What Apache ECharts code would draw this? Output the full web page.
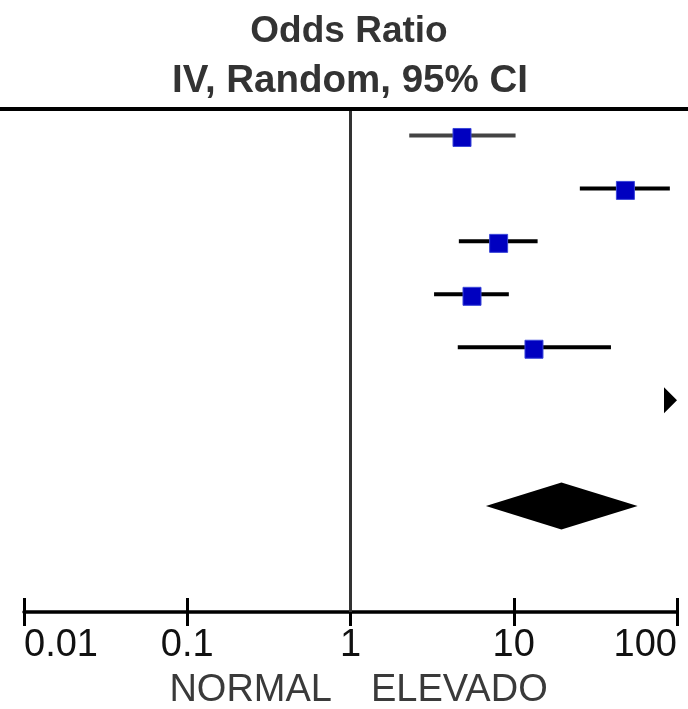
<!DOCTYPE html>
<html><head><meta charset="utf-8">
<script src="https://cdn.jsdelivr.net/npm/echarts@6/dist/echarts.min.js"></script>
<style>html,body{margin:0;padding:0;background:#fff}#c{width:688px;height:709px}</style>
</head><body><div id="c"></div>
<script>
// ---- data ----
const studyRows = [1, 2, 3, 4, 5];
const oddsRatio = [4.82, 48.3, 8.08, 5.55, 13.3];
const ciLow = [2.29, 25.4, 4.61, 3.25, 4.54];
const ciHigh = [10.26, 90.4, 14.0, 9.33, 39.4];
const offScaleRows = [6];          // study whose interval lies beyond the axis (arrow at max)
const offScaleValues = [100];
const pooledRows = [8];
const pooledOR = [19.6];
const pooledLow = [6.75];
const pooledHigh = [57.4];
const tickValues = [0.01, 0.1, 1, 10, 100];
const tickLabels = ['0.01', '0.1', '1', '10', '100'];
const titleLines = ['Odds Ratio', 'IV, Random, 95% CI'];
const favourLabels = ['NORMAL', 'ELEVADO'];

// ---- chart ----
const FONT = 'Liberation Sans, Arial, sans-serif';
const chart = echarts.init(document.getElementById('c'), null, {renderer: 'canvas'});

function fmt(v) {
  let best = 0;
  tickValues.forEach((t, i) => { if (Math.abs(Math.log10(t) - Math.log10(v)) < Math.abs(Math.log10(tickValues[best]) - Math.log10(v))) best = i; });
  return tickLabels[best];
}

const studyData = studyRows.map((r, i) => [oddsRatio[i], r, ciLow[i], ciHigh[i]]);
const arrowData = offScaleRows.map((r, i) => [offScaleValues[i], r]);
const pooledData = pooledRows.map((r, i) => [pooledOR[i], r, pooledLow[i], pooledHigh[i]]);

const option = {
  animation: false,
  backgroundColor: '#fff',
  grid: {left: 24, right: 11, top: 109, bottom: 97, containLabel: false},
  xAxis: [{
    type: 'log', logBase: 10, min: 0.01, max: 100, position: 'bottom',
    axisLine: {show: true, lineStyle: {color: '#000', width: 3.5}},
    axisTick: {show: true, length: 14, lineStyle: {color: '#000', width: 3}},
    minorTick: {show: false},
    axisLabel: {fontSize: 38, color: '#111', fontFamily: FONT, margin: 15,
      alignMinLabel: 'left', alignMaxLabel: 'right', formatter: fmt},
    splitLine: {show: false}
  }, {
    type: 'log', logBase: 10, min: 0.01, max: 100, position: 'bottom',
    axisLine: {show: false},
    axisTick: {show: true, inside: true, length: 14, lineStyle: {color: '#000', width: 3}},
    axisLabel: {show: false},
    splitLine: {show: false}
  }],
  yAxis: {type: 'value', inverse: true, min: 0.5, max: 10, show: false},
  graphic: [
    {type: 'rect', shape: {x: 0, y: 107, width: 688, height: 4}, style: {fill: '#000'}, z: 10},
    {type: 'text', style: {x: 349, y: 13, text: titleLines[0], font: 'bold 37px ' + FONT, fill: '#333', align: 'center', verticalAlign: 'top'}},
    {type: 'text', style: {x: 350, y: 62, text: titleLines[1], font: 'bold 38.5px ' + FONT, fill: '#333', align: 'center', verticalAlign: 'top'}},
    {type: 'text', style: {x: 332, y: 672, text: favourLabels[0], font: '38px ' + FONT, fill: '#3a3a3a', align: 'right', verticalAlign: 'top'}},
    {type: 'text', style: {x: 371, y: 672, text: favourLabels[1], font: '38px ' + FONT, fill: '#3a3a3a', align: 'left', verticalAlign: 'top'}}
  ],
  series: [{
    type: 'custom',
    data: studyData,
    encode: {x: [0, 2, 3], y: 1},
    clip: false,
    z: 3,
    renderItem: function (params, api) {
      const y = api.value(1);
      const pE = api.coord([api.value(0), y]);
      const pL = api.coord([api.value(2), y]);
      const pH = api.coord([api.value(3), y]);
      const col = params.dataIndex === 0 ? '#444' : '#000';
      return {type: 'group', children: [
        {type: 'line', shape: {x1: pL[0], y1: pL[1], x2: pH[0], y2: pH[1]}, style: {stroke: col, lineWidth: 4}},
        {type: 'rect', shape: {x: pE[0] - 9, y: pE[1] - 7, width: 18, height: 18}, style: {fill: '#0000C0', stroke: '#3a46d8', lineWidth: 1}}
      ]};
    },
    markLine: {
      silent: true, symbol: 'none', label: {show: false},
      lineStyle: {color: '#333', width: 3, type: 'solid'},
      data: [{xAxis: 1}],
      z: 1
    }
  }, {
    type: 'custom',
    data: arrowData,
    encode: {x: 0, y: 1},
    clip: false,
    renderItem: function (params, api) {
      const p = api.coord([api.value(0), api.value(1)]);
      return {type: 'polygon', shape: {points: [[p[0] - 13, p[1] - 13], [p[0], p[1]], [p[0] - 13, p[1] + 13]]}, style: {fill: '#000'}};
    }
  }, {
    type: 'custom',
    data: pooledData,
    encode: {x: [0, 2, 3], y: 1},
    clip: false,
    renderItem: function (params, api) {
      const y = api.value(1);
      const pE = api.coord([api.value(0), y]);
      const pL = api.coord([api.value(2), y]);
      const pH = api.coord([api.value(3), y]);
      return {type: 'polygon', shape: {points: [[pL[0], pL[1]], [pE[0], pE[1] - 23.5], [pH[0], pH[1]], [pE[0], pE[1] + 23.5]]}, style: {fill: '#000'}};
    }
  }]
};
chart.setOption(option);
</script>
</body></html>
